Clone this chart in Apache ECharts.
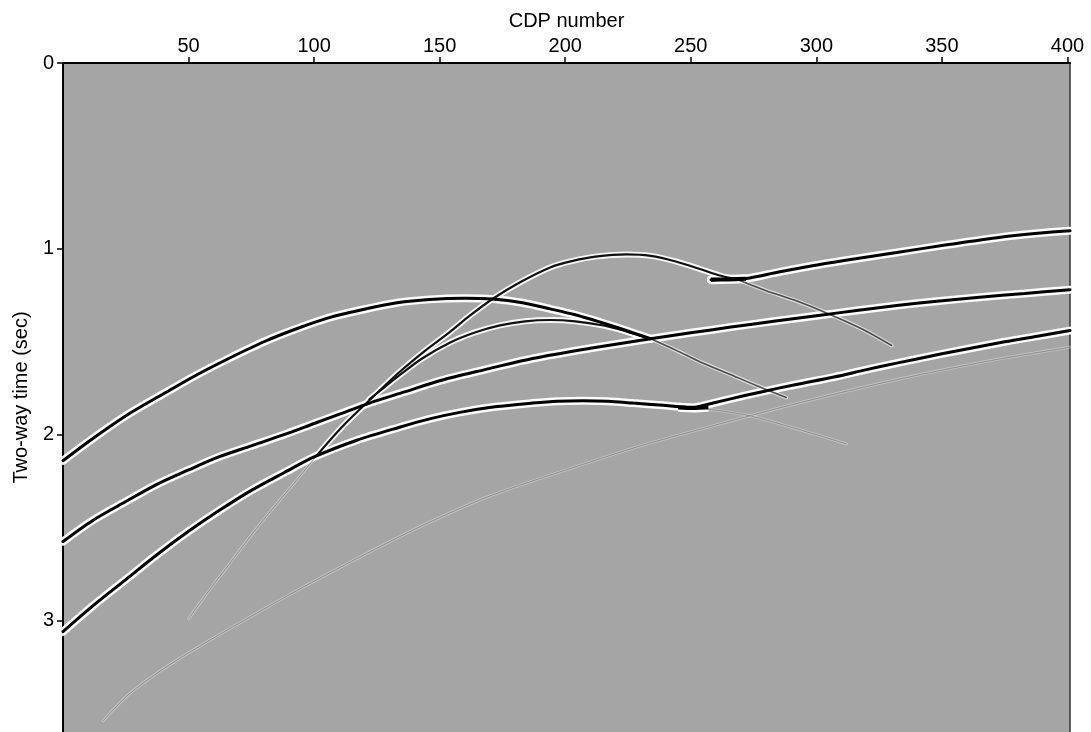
<!DOCTYPE html>
<html>
<head>
<meta charset="utf-8">
<script src="https://cdn.jsdelivr.net/npm/echarts@6/dist/echarts.min.js"></script>
<style>
html,body{margin:0;padding:0;background:#fff;}
#chart{width:1091px;height:732px;}
</style>
</head>
<body>
<div id="chart"></div>
<script>
// ---- axis ticks ----
const cdpTicks = [50, 100, 150, 200, 250, 300, 350, 400];
const timeTicks = [0, 1, 2, 3];

// ---- events: [CDP, two-way time (s)] read from the section ----
const eventA = [[0,2.14],[13,2.01],[26,1.89],[40,1.78],[53,1.68],[66,1.59],[80,1.50],[93,1.43],[106,1.37],[120,1.325],[133,1.29],[146,1.272],[160,1.266],[171,1.27],[183,1.29],[194,1.323],[204,1.355],[214,1.395],[224,1.438],[234,1.484]];
const eventATail = [[234,1.484],[244,1.545],[254,1.61],[265,1.672],[276,1.735],[288,1.80]];
const eventB = [[0,2.575],[12,2.46],[25,2.36],[37,2.27],[50,2.19],[62,2.12],[75,2.06],[88,2.0],[100,1.94],[111,1.885],[122,1.83],[136,1.77],[150,1.71],[168,1.65],[187,1.59],[210,1.535],[234,1.484],[250,1.452],[266,1.421],[283,1.39],[300,1.36],[316,1.332],[332,1.305],[348,1.282],[365,1.26],[383,1.24],[401,1.22]];
const eventC = [[0,3.06],[12,2.92],[25,2.78],[37,2.65],[50,2.52],[62,2.41],[75,2.30],[88,2.205],[100,2.12],[117,2.03],[134,1.96],[146,1.915],[158,1.88],[172,1.85],[187,1.83],[197,1.82],[207,1.817],[217,1.82],[227,1.83],[239,1.842],[251,1.856]];
const eventCRight = [[251,1.856],[265,1.81],[278,1.77],[292,1.73],[307,1.69],[320,1.65],[332,1.615],[350,1.565],[375,1.50],[388,1.47],[401,1.44]];
const eventCKnot = [[245,1.853],[251,1.856],[257,1.852]];
const eventCTail = [[251,1.856],[262,1.872],[274,1.90],[290,1.96],[300,2.0],[312,2.05]];
const eventD = [[258,1.166],[265,1.164],[272,1.16],[285,1.125],[299,1.09],[315,1.055],[332,1.02],[352,0.978],[372,0.94],[387,0.918],[401,0.903]];
const eventDKnot = [[258,1.166],[265,1.164],[272,1.161]];
const eventE = [[101,2.113],[111,1.96],[122,1.815],[134,1.663],[144,1.55],[154,1.448],[162,1.36],[171,1.27],[182,1.18],[194,1.10],[203,1.065],[212,1.042],[224.5,1.03],[234,1.038],[244,1.068],[254,1.11],[262,1.145],[268,1.162]];
const eventETail = [[268,1.162],[280,1.225],[292,1.28],[304,1.345],[318,1.43],[330,1.52]];
const eventELow = [[50,2.99],[57,2.86],[66,2.70],[75,2.54],[84,2.39],[93,2.245],[101,2.113]];
const eventF = [[122,1.81],[128,1.745],[134,1.68],[143,1.59],[154,1.505],[164,1.45],[174,1.412],[184,1.39],[194,1.383],[204,1.39],[214,1.41],[222,1.435],[228,1.46],[234,1.484]];
const eventG = [[16,3.54],[26,3.40],[40,3.26],[53,3.15],[72,3.0],[93,2.84],[118,2.66],[143,2.49],[170,2.33],[207,2.16],[230,2.06],[254,1.97],[290,1.84],[330,1.71],[370,1.60],[401,1.53]];

const strong = [eventA, eventB, eventC, eventCRight, eventD];
const knots = [eventCKnot, eventDKnot];
const medium = [eventE, eventF];
const weak = [eventATail, eventETail];
const faint = [eventG, eventCTail, eventELow];

function layer(data, color, width, z, opacity, cap) {
  return {
    type: 'line', data: data, smooth: 0.3, showSymbol: false, silent: true,
    z: z, lineStyle: { color: color, width: width, opacity: opacity, cap: cap || 'round' },
    emphasis: { disabled: true }
  };
}

const series = [];
faint.forEach(d => series.push(layer(d, '#ffffff', 3, 1, 0.3)));
weak.forEach(d => series.push(layer(d, '#ffffff', 4, 2, 0.6)));
medium.forEach(d => series.push(layer(d, '#ffffff', 6, 3, 0.9)));
strong.forEach(d => series.push(layer(d, '#ffffff', 8, 4, 0.95)));
knots.forEach(d => series.push(layer(d, '#ffffff', 9, 4, 0.95, 'butt')));
faint.forEach(d => series.push(layer(d, '#808080', 1, 5, 0.8)));
weak.forEach(d => series.push(layer(d, '#333333', 1.6, 6, 0.85)));
medium.forEach(d => series.push(layer(d, '#111111', 2.2, 7, 1)));
strong.forEach(d => series.push(layer(d, '#000000', 3, 8, 1)));
knots.forEach(d => series.push(layer(d, '#000000', 4.2, 9, 1, 'butt')));

const font = 'Liberation Sans, Arial, Helvetica, sans-serif';
const chart = echarts.init(document.getElementById('chart'), null, { renderer: 'canvas' });
chart.setOption({
  animation: false,
  backgroundColor: '#ffffff',
  grid: { left: 63, top: 63, width: 1007, height: 671, show: true, backgroundColor: '#a5a5a5', borderWidth: 0, containLabel: false },
  xAxis: {
    type: 'value', position: 'top', min: 0, max: 401,
    name: 'CDP number', nameLocation: 'middle', nameGap: 32,
    nameTextStyle: { fontFamily: font, fontSize: 20, color: '#000' },
    axisLine: { show: true, onZero: false, lineStyle: { color: '#000', width: 2 } },
    axisTick: { show: true, inside: false, length: 6, customValues: cdpTicks, lineStyle: { color: '#000', width: 1.5 } },
    axisLabel: { show: true, margin: 7, customValues: cdpTicks, fontFamily: font, fontSize: 20, color: '#000' },
    splitLine: { show: false }
  },
  yAxis: [{
    type: 'value', inverse: true, min: 0, max: 3.6,
    name: 'Two-way time (sec)', nameLocation: 'middle', nameGap: 28,
    nameTextStyle: { fontFamily: font, fontSize: 20, color: '#000' },
    axisLine: { show: true, onZero: false, lineStyle: { color: '#000', width: 2 } },
    axisTick: { show: true, inside: false, length: 6, customValues: timeTicks, lineStyle: { color: '#000', width: 1.5 } },
    axisLabel: { show: true, margin: 9, customValues: timeTicks, fontFamily: font, fontSize: 20, color: '#000' },
    splitLine: { show: false }
  }, {
    type: 'value', inverse: true, min: 0, max: 3.6, position: 'right',
    axisLine: { show: true, onZero: false, lineStyle: { color: '#333', width: 1.5 } },
    axisTick: { show: false }, axisLabel: { show: false }, splitLine: { show: false }
  }],
  series: series
});
</script>
</body>
</html>
